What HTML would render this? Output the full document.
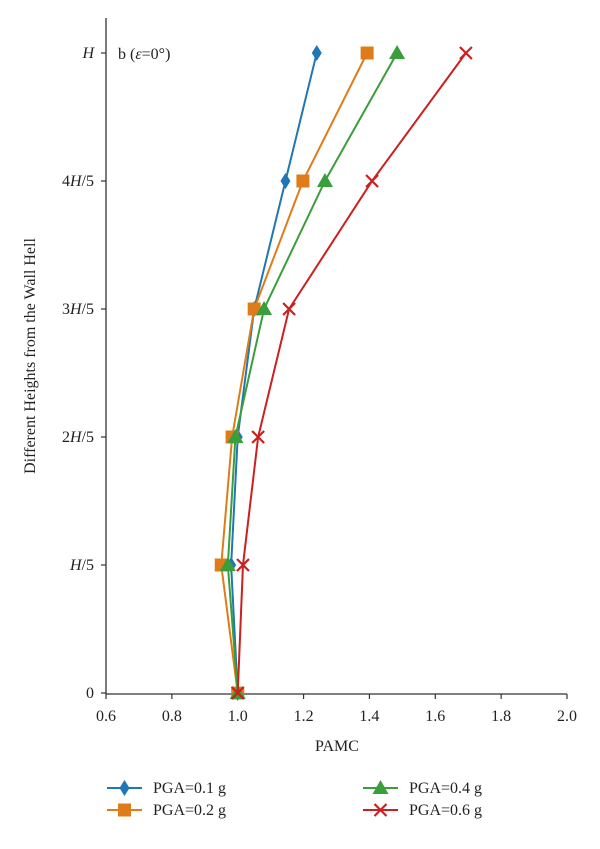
<!DOCTYPE html>
<html><head><meta charset="utf-8"><style>
body{margin:0;background:#fff;}
svg text{font-family:"Liberation Serif",serif;fill:#222;}
</style></head><body>
<svg id="chart" width="600" height="844" xmlns="http://www.w3.org/2000/svg">
<g id="axes"></g>
<g id="series"></g>
<g id="legend"></g>
<text x="118" y="59" font-size="16">b (<tspan font-style="italic">ε</tspan>=0°)</text>
<text x="337" y="751" font-size="16" text-anchor="middle">PAMC</text>
<text transform="translate(35,356) rotate(-90)" font-size="16" text-anchor="middle">Different Heights from the Wall Hell</text>
</svg>
<script>
const xTicks=[0.6,0.8,1.0,1.2,1.4,1.6,1.8,2.0];
const yLabels=["0","H/5","2H/5","3H/5","4H/5","H"];
const levels=[0,1,2,3,4,5];
const s1=[1.0,0.98,1.0,1.05,1.145,1.24];
const s2=[1.0,0.95,0.983,1.05,1.198,1.393];
const s3=[1.0,0.97,0.993,1.08,1.265,1.484];
const s4=[1.0,1.016,1.062,1.156,1.408,1.693];
const names=["PGA=0.1 g","PGA=0.2 g","PGA=0.4 g","PGA=0.6 g"];
const colors=["#1f77b4","#e07b1a","#3a9e3a","#cc1f1f"];
const markers=["diamond","square","triangle","cross"];
const NS="http://www.w3.org/2000/svg";
const X=v=>106+(v-0.6)/1.4*461;
const Y=l=>693-l*128;
function mk(t,a,p){const e=document.createElementNS(NS,t);for(const k in a)e.setAttribute(k,a[k]);p.appendChild(e);return e;}
const ax=document.getElementById('axes');
let e=mk('line',{x1:106,y1:18,x2:106,y2:694,stroke:'#333','stroke-width':1.3},ax);


e=mk('line',{x1:106,y1:694,x2:567,y2:694,stroke:'#333','stroke-width':1.3},ax);


xTicks.forEach(v=>{
  mk('line',{x1:X(v),y1:694,x2:X(v),y2:699,stroke:'#333','stroke-width':1.2},ax);
  const t=mk('text',{x:X(v),y:721,'font-size':16,'text-anchor':'middle'},ax);
  t.textContent=v.toFixed(1);
  
  
});
levels.forEach((l,i)=>{
  mk('line',{x1:101,y1:Y(l),x2:106,y2:Y(l),stroke:'#333','stroke-width':1.2},ax);
  const t=mk('text',{x:94,y:Y(l)+5,'font-size':16,'text-anchor':'end'},ax);
  t.innerHTML=yLabels[i].replace(/H/,'<tspan font-style="italic">H</tspan>');
  
  
});
function marker(type,x,y,c,p){
  let m;
  if(type==='diamond')m=mk('polygon',{points:`${x},${y-8} ${x+5},${y} ${x},${y+8} ${x-5},${y}`,fill:c},p);
  else if(type==='square')m=mk('rect',{x:x-6.5,y:y-6.5,width:13,height:13,fill:c},p);
  else if(type==='triangle')m=mk('polygon',{points:`${x},${y-8} ${x+8},${y+6} ${x-8},${y+6}`,fill:c},p);
  else {m=mk('path',{d:`M${x-6},${y-6}L${x+6},${y+6}M${x+6},${y-6}L${x-6},${y+6}`,stroke:c,'stroke-width':2.2,fill:'none'},p);}
  
  
}
const sg=document.getElementById('series');
[s1,s2,s3,s4].forEach((s,i)=>{
  const g=mk('g',{},sg);
  
  
  const pl=mk('polyline',{points:s.map((v,j)=>X(v)+','+Y(levels[j])).join(' '),fill:'none',stroke:colors[i],'stroke-width':2},g);
  
  
  s.forEach((v,j)=>marker(markers[i],X(v),Y(levels[j]),colors[i],g));
});
const lg=document.getElementById('legend');
const pos=[[107,788],[107,810],[363,788],[363,810]];
names.forEach((n,i)=>{
  const g=mk('g',{},lg);
  
  
  const [x,y]=pos[i];
  mk('line',{x1:x,y1:y,x2:x+35,y2:y,stroke:colors[i],'stroke-width':2},g);
  marker(markers[i],x+17.5,y,colors[i],g);
  const t=mk('text',{x:x+46,y:y+5,'font-size':16},g);
  t.textContent=n;
});
</script>
</body></html>
